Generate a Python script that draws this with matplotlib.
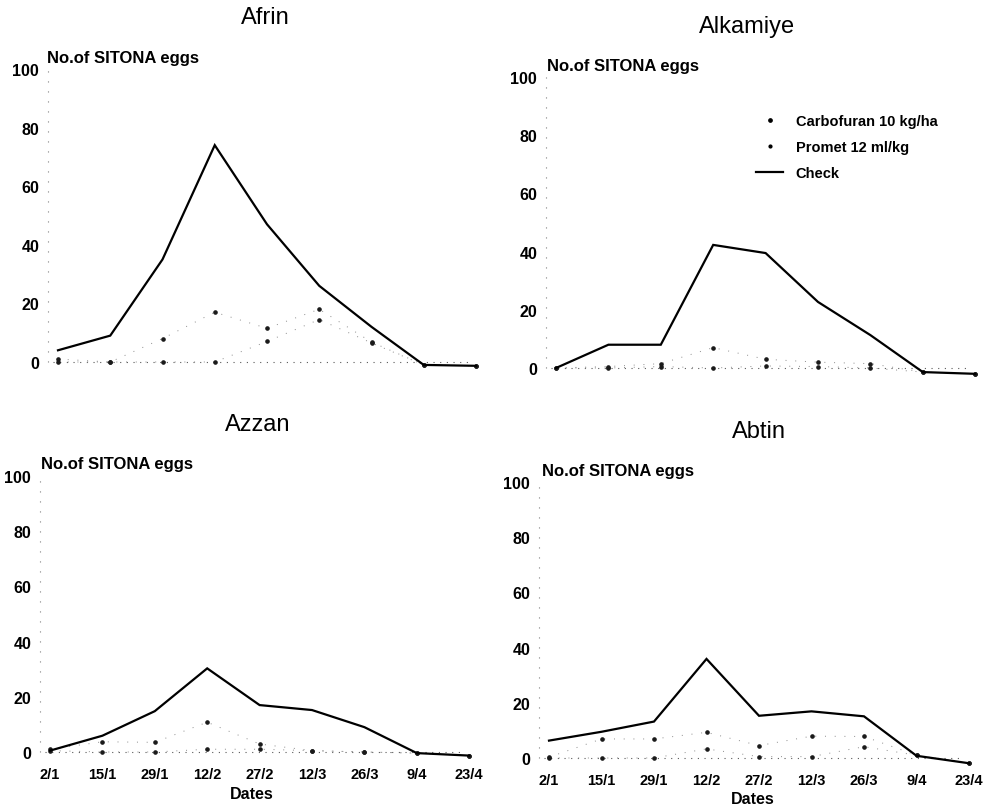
import matplotlib
matplotlib.use("Agg")
import matplotlib.pyplot as plt
from matplotlib.lines import Line2D

plt.rcParams['font.family'] = ['Liberation Sans', 'DejaVu Sans']

# ---- data -------------------------------------------------------------
dates = ["2/1", "15/1", "29/1", "12/2", "27/2", "12/3", "26/3", "9/4", "23/4"]
yticks = [0, 20, 40, 60, 80, 100]

afrin_check = [4, 9, 35, 74, 47, 26, 12, -1, -1.3]
afrin_carbofuran = [0, 0, 0, 0, 7, 14.5, 6.5, -1, -1.3]
afrin_promet = [1, 0, 8, 17, 11.5, 18, 6.8, -1, -1.3]

alkamiye_check = [0, 8, 8, 42.3, 39.5, 22.7, 11.3, -1.4, -2]
alkamiye_carbofuran = [0, 0, 0.5, 0, 0.7, 0.5, 0, -1.4, -2]
alkamiye_promet = [0, 0.5, 1.5, 7, 3, 2, 1.5, -1.4, -2]

azzan_check = [0.5, 5.9, 14.8, 30.3, 17, 15.2, 9, -0.4, -1.3]
azzan_carbofuran = [0.5, 0, 0, 1, 1, 0.5, 0, -0.4, -1.3]
azzan_promet = [1, 3.7, 3.5, 10.8, 2.9, 0.5, 0, -0.4, -1.3]

abtin_check = [6.3, 9.5, 13.2, 35.9, 15.3, 16.9, 15.1, 0.8, -1.9]
abtin_carbofuran = [0, 0, 0, 3.3, 0.5, 0.5, 4.1, 1, -1.9]
abtin_promet = [0.3, 6.9, 6.9, 9.3, 4.5, 7.9, 7.8, 1, -1.9]

series_labels = ["Carbofuran 10 kg/ha", "Promet 12 ml/kg", "Check"]
sites = ["Afrin", "Alkamiye", "Azzan", "Abtin"]

# ---- layout (pixels) --------------------------------------------------
W, H = 997, 812
XMIN, XMAX, YMIN, YMAX = -0.2, 8.25, -5, 100

# (first date x, date spacing, y of 0, y of 100), title centre, y-label anchor
geom = {
    "Afrin":    ((58, 52.25, 363, 70),  (265, 18),  (47, 58)),
    "Alkamiye": ((556, 52.4, 369, 78),  (747, 27),  (547, 66)),
    "Azzan":    ((50, 52.4, 753, 477),  (258, 425), (41, 465)),
    "Abtin":    ((549, 52.5, 759, 483), (759, 432), (542, 472)),
}
panel_data = {
    "Afrin": (afrin_carbofuran, afrin_promet, afrin_check),
    "Alkamiye": (alkamiye_carbofuran, alkamiye_promet, alkamiye_check),
    "Azzan": (azzan_carbofuran, azzan_promet, azzan_check),
    "Abtin": (abtin_carbofuran, abtin_promet, abtin_check),
}
bottom_row = {"Azzan": (252, 795), "Abtin": (753, 800)}

fig = plt.figure(figsize=(W / 100, H / 100), dpi=100)
fig.patch.set_facecolor("white")

xs = list(range(len(dates)))
treat_line = dict(color="0.55", lw=0.7, ls=(0, (1, 9)))
treat_mark = dict(ls="none", marker="o", ms=2.3, mfc="0.1", mec="0.1")

for site in sites:
    (x0, dx, y0, y100), (tx, ty), (lx, ly) = geom[site]
    s = (y0 - y100) / 100.0
    left = x0 + XMIN * dx
    right = x0 + XMAX * dx
    top = y100 - (YMAX - 100) * s
    bottom = y0 - YMIN * s
    ax = fig.add_axes([left / W, 1 - bottom / H, (right - left) / W, (bottom - top) / H])
    ax.set_xlim(XMIN, XMAX)
    ax.set_ylim(YMIN, YMAX)
    for sp in ax.spines.values():
        sp.set_visible(False)

    # dotted axes
    ax.plot([XMIN, XMIN], [0, 100], color="0.5", lw=0.8, ls=(0, (1, 8)), clip_on=False)
    ax.plot([XMIN + 0.1, 7.9], [0, 0], color="0.35", lw=0.8, ls=(0, (1, 5)))

    carb, prom, chk = panel_data[site]
    for vals in (carb, prom):
        ax.plot(xs, vals, **treat_line)
        ax.plot(xs, vals, **treat_mark)
    ax.plot(xs, chk, color="black", lw=1.6, solid_joinstyle="miter")

    ax.set_yticks(yticks)
    ax.set_yticklabels([str(v) for v in yticks], fontsize=11.5, fontweight="bold")
    ax.tick_params(axis="y", length=0, pad=6)
    ax.set_xticks(xs)
    if site in bottom_row:
        ax.set_xticklabels(dates, fontsize=10.5, fontweight="bold")
        ax.tick_params(axis="x", length=0, pad=1)
        dxp, dyp = bottom_row[site]
        fig.text(dxp / W, 1 - dyp / H, "Dates", ha="center", va="center",
                 fontsize=11.5, fontweight="bold")
    else:
        ax.set_xticklabels([])
        ax.tick_params(axis="x", length=0)

    fig.text(tx / W, 1 - ty / H, site, ha="center", va="center", fontsize=17)
    fig.text(lx / W, 1 - ly / H, "No.of SITONA eggs", ha="left", va="center",
             fontsize=12, fontweight="bold")

    if site == "Alkamiye":
        handles = [
            Line2D([], [], ls="none", marker="o", ms=2.4, color="black"),
            Line2D([], [], ls="none", marker="o", ms=2.0, color="black"),
            Line2D([], [], color="black", lw=1.6),
        ]
        ax.legend(handles, series_labels, loc="upper left",
                  bbox_to_anchor=(749 / W, 1 - 108 / H), bbox_transform=fig.transFigure,
                  frameon=False, borderpad=0, handlelength=1.85, handletextpad=0.85,
                  labelspacing=0.8, prop=dict(size=10.5, weight="bold"))

fig.savefig("out.png", dpi=100, facecolor="white")
